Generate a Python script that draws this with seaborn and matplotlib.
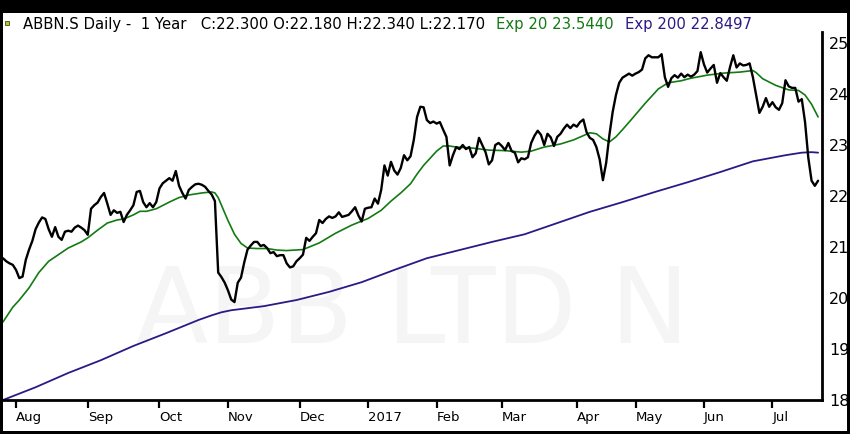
import numpy as np
import pandas as pd
import matplotlib
matplotlib.use("Agg")
import matplotlib.pyplot as plt
import seaborn as sns
from matplotlib.patches import Rectangle

# ---------------- data ----------------
start_date = "2016-07-26"
holidays = ["2016-08-01", "2016-12-26", "2017-01-02", "2017-04-14",
            "2017-04-17", "2017-05-01", "2017-05-25", "2017-06-05"]

close = [
    20.78, 20.72, 20.68, 20.65, 20.55, 20.39, 20.42, 20.75, 20.95, 21.12,
    21.35, 21.48, 21.58, 21.55, 21.35, 21.20, 21.39, 21.20, 21.14, 21.30,
    21.32, 21.30, 21.38, 21.42, 21.38, 21.33, 21.24, 21.75, 21.82, 21.87,
    21.98, 22.06, 21.85, 21.63, 21.72, 21.67, 21.69, 21.49, 21.63, 21.72,
    21.82, 22.08, 22.10, 21.88, 21.78, 21.86, 21.78, 21.88, 22.15, 22.25,
    22.30, 22.35, 22.30, 22.49, 22.20, 22.06, 21.95, 22.12, 22.18, 22.23,
    22.24, 22.22, 22.18, 22.10, 22.03, 21.90, 20.50, 20.41, 20.30, 20.15,
    19.97, 19.92, 20.30, 20.40, 20.70, 20.95, 21.03, 21.10, 21.10, 21.02,
    21.04, 20.98, 20.88, 20.90, 20.82, 20.84, 20.84, 20.68, 20.60, 20.62,
    20.72, 20.78, 20.85, 21.18, 21.12, 21.20, 21.27, 21.53, 21.47, 21.55,
    21.60, 21.57, 21.60, 21.68, 21.59, 21.61, 21.63, 21.70, 21.78, 21.62,
    21.50, 21.75, 21.77, 21.78, 21.95, 21.85, 22.12, 22.60, 22.40, 22.67,
    22.50, 22.42, 22.55, 22.80, 22.70, 22.78, 23.10, 23.55, 23.75, 23.74,
    23.49, 23.43, 23.46, 23.42, 23.45, 23.30, 23.16, 22.60, 22.80, 22.96,
    22.92, 23.00, 22.92, 22.96, 22.76, 22.84, 23.14, 23.00, 22.86, 22.62,
    22.70, 23.00, 23.04, 22.98, 22.90, 23.04, 22.88, 22.85, 22.66, 22.74,
    22.72, 22.76, 23.04, 23.18, 23.28, 23.20, 23.00, 23.22, 23.15, 22.98,
    23.16, 23.22, 23.32, 23.40, 23.33, 23.40, 23.36, 23.45, 23.50, 23.25,
    23.14, 23.10, 22.96, 22.72, 22.31, 22.65, 23.20, 23.65, 23.98, 24.22,
    24.32, 24.36, 24.40, 24.36, 24.40, 24.43, 24.48, 24.70, 24.76, 24.72,
    24.72, 24.72, 24.78, 24.33, 24.14, 24.31, 24.37, 24.32, 24.40, 24.33,
    24.38, 24.34, 24.38, 24.45, 24.82, 24.58, 24.42, 24.50, 24.57, 24.22,
    24.41, 24.33, 24.26, 24.53, 24.76, 24.52, 24.60, 24.56, 24.57, 24.60,
    24.33, 23.98, 23.63, 23.75, 23.92, 23.75, 23.84, 23.74, 23.69, 23.82,
    24.27, 24.15, 24.12, 24.12, 23.85, 23.90, 23.45, 22.75, 22.30, 22.20,
    22.30,
]

ema20_day = [0, 3, 5, 8, 11, 14, 17, 20, 24, 26, 29, 32, 35, 37, 40, 42, 44,
             47, 51, 54, 57, 61, 64, 65, 66, 67, 69, 71, 73, 75, 78, 81, 84,
             87, 92, 97, 102, 107, 112, 116, 119, 122, 125, 127, 129, 131, 133,
             135, 137, 139, 144, 149, 154, 159, 162, 166, 171, 175, 180, 182,
             184, 186, 188, 190, 193, 197, 201, 204, 208, 211, 216, 221, 226,
             230, 231, 233, 237, 241, 244, 246, 248, 250]
ema20 = [19.53, 19.82, 19.96, 20.20, 20.50, 20.72, 20.85, 20.98, 21.10, 21.18,
         21.33, 21.47, 21.53, 21.55, 21.63, 21.70, 21.70, 21.75, 21.88, 21.97,
         22.02, 22.06, 22.08, 22.06, 21.97, 21.82, 21.52, 21.25, 21.07, 20.98,
         20.97, 20.97, 20.94, 20.93, 20.95, 21.08, 21.27, 21.43, 21.56, 21.72,
         21.90, 22.06, 22.24, 22.43, 22.60, 22.74, 22.88, 22.98, 22.98, 22.96,
         22.94, 22.90, 22.89, 22.86, 22.88, 22.96, 23.02, 23.10, 23.24, 23.22,
         23.12, 23.06, 23.16, 23.30, 23.52, 23.82, 24.10, 24.22, 24.26, 24.31,
         24.37, 24.41, 24.43, 24.46, 24.42, 24.30, 24.17, 24.08, 24.07, 23.98,
         23.80, 23.55]

ema200_day = [0, 10, 20, 30, 40, 50, 60, 64, 67, 70, 75, 80, 90, 100, 110, 120,
              130, 140, 150, 160, 170, 180, 190, 200, 210, 220, 230, 240, 245,
              248, 250]
ema200 = [18.00, 18.25, 18.53, 18.78, 19.06, 19.31, 19.57, 19.66, 19.72, 19.76,
          19.80, 19.84, 19.96, 20.12, 20.31, 20.55, 20.78, 20.94, 21.10, 21.25,
          21.47, 21.69, 21.88, 22.08, 22.27, 22.47, 22.68, 22.80, 22.85, 22.86,
          22.85]

y_ticks = [18, 19, 20, 21, 22, 23, 24, 25]
title_main = "ABBN.S Daily -  1 Year   C:22.300 O:22.180 H:22.340 L:22.170"
title_ema20 = "Exp 20 23.5440"
title_ema200 = "Exp 200 22.8497"
watermark = "ABB LTD N"

# ---------------- build frames ----------------
dates = pd.bdate_range(start_date, periods=len(close), freq="C", holidays=holidays)
df = pd.DataFrame({"day": np.arange(len(close)), "date": dates, "close": close})
df20 = pd.DataFrame({"day": ema20_day, "ema": ema20})
df200 = pd.DataFrame({"day": ema200_day, "ema": ema200})

# month ticks at first trading day of each month (skip partial first month)
first = df.groupby(df["date"].dt.to_period("M")).first()
first = first[first["date"].dt.day <= 7]
tick_pos = first["day"].tolist()
tick_lab = [("%d" % d.year) if d.month == 1 else d.strftime("%b") for d in first["date"]]

# ---------------- style ----------------
sns.set_style("white")
plt.rcParams["font.family"] = ["DejaVu Sans"]

W, H = 850, 434
fig = plt.figure(figsize=(W / 100, H / 100), dpi=100, facecolor="black")
fig.patches.append(Rectangle((3 / W, 3 / H), 844 / W, 418 / H, transform=fig.transFigure,
                             facecolor="white", edgecolor="none", zorder=-5))

ax = fig.add_axes([3 / W, 34 / H, 819 / W, 368 / H])
ax.set_facecolor("white")

ax.text(0.5, 0.235, watermark, transform=ax.transAxes, ha="center", va="center",
        fontsize=76, color="#f5f5f5", zorder=0)

sns.lineplot(data=df200, x="day", y="ema", ax=ax, color="#2a1a86", lw=1.3, zorder=2)
sns.lineplot(data=df20, x="day", y="ema", ax=ax, color="#137a13", lw=1.2, zorder=3)
sns.lineplot(data=df, x="day", y="close", ax=ax, color="black", lw=1.7, zorder=4)

ax.set_xlim(0, 251.2)
ax.set_ylim(18, 25.216)
ax.set_xlabel("")
ax.set_ylabel("")

ax.yaxis.tick_right()
ax.set_yticks(y_ticks)
ax.set_yticklabels([str(v) for v in y_ticks])
ax.tick_params(axis="y", right=True, left=False, length=0, pad=5, labelsize=11.5,
               labelcolor="black")

ax.set_xticks(tick_pos)
ax.set_xticklabels(tick_lab, ha="left")
ax.tick_params(axis="x", bottom=True, length=6, width=1.6, direction="out",
               pad=2, labelsize=9.5, color="black", labelcolor="black")

for s in ["left", "top"]:
    ax.spines[s].set_visible(False)
for s in ["right", "bottom"]:
    ax.spines[s].set_visible(True)
    ax.spines[s].set_color("black")
    ax.spines[s].set_linewidth(2)

# title strip
fig.patches.append(Rectangle((5 / W, (H - 25) / H), 4 / W, 4 / H, transform=fig.transFigure,
                             facecolor="#a9c83c", edgecolor="#3d4a12", lw=0.6, zorder=5))
ty = 1 - 24 / H
fig.text(23 / W, ty, title_main, fontsize=10.7, va="center", color="black")
fig.text(496 / W, ty, title_ema20, fontsize=10.7, va="center", color="#137a13")
fig.text(625 / W, ty, title_ema200, fontsize=10.7, va="center", color="#2a1a86")

fig.savefig("out.png", dpi=100, facecolor=fig.get_facecolor())
